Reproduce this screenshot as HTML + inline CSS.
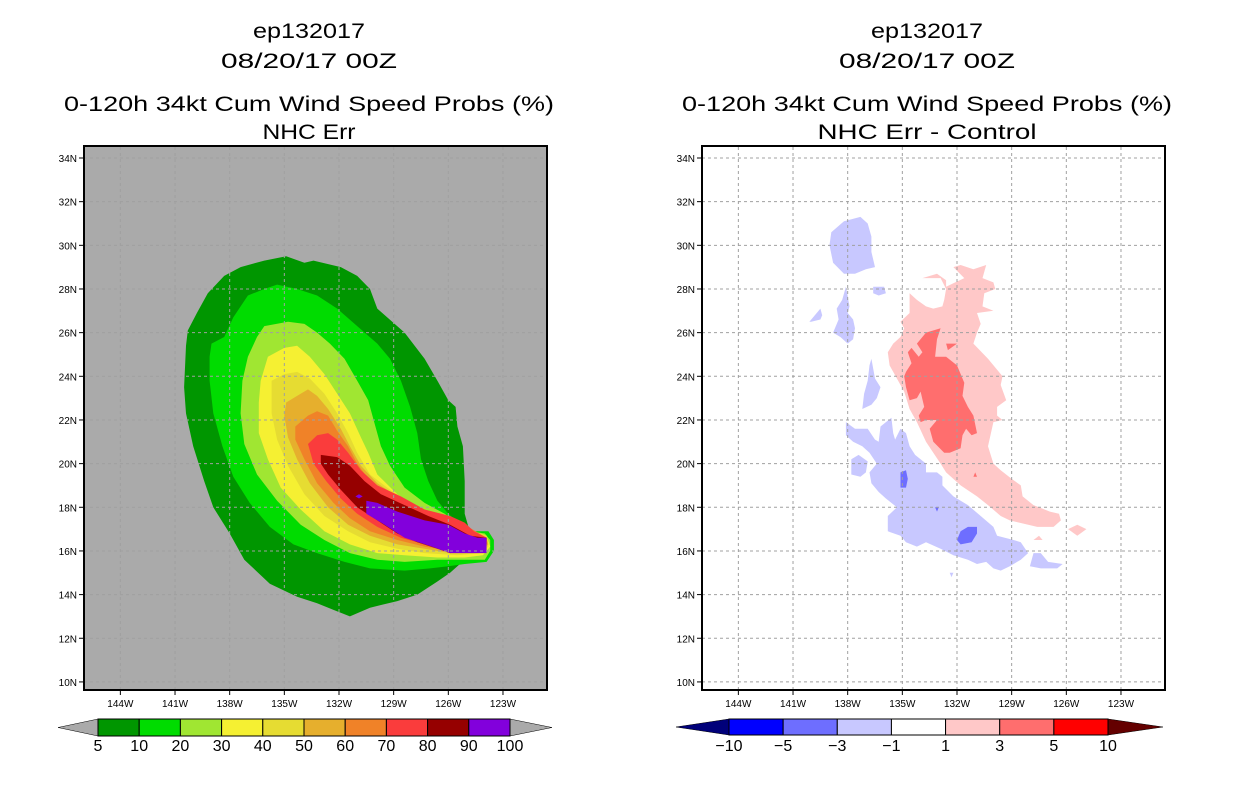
<!DOCTYPE html>
<html><head><meta charset="utf-8"><style>
html,body{margin:0;padding:0;background:#fff}
svg{display:block}
.t{font-family:"Liberation Sans",sans-serif;font-size:21px;fill:#000;text-anchor:middle}
.tk{font-family:"Liberation Sans",sans-serif;font-size:10px;fill:#000}
.cb{font-family:"Liberation Sans",sans-serif;font-size:16px;fill:#000;text-anchor:middle}
</style></head><body>
<svg id="root" width="1236" height="800" xmlns="http://www.w3.org/2000/svg">
<defs>
<clipPath id="clipL"><rect x="84" y="147" width="463" height="543"/></clipPath>
<clipPath id="clipR"><rect x="702" y="147" width="463" height="543"/></clipPath>
</defs>
<g>
<text class="t" x="309" y="38" textLength="112" lengthAdjust="spacingAndGlyphs">ep132017</text>
<text class="t" x="309" y="68" textLength="176" lengthAdjust="spacingAndGlyphs">08/20/17 00Z</text>
<text class="t" x="309" y="111" textLength="490" lengthAdjust="spacingAndGlyphs">0-120h 34kt Cum Wind Speed Probs (%)</text>
<text class="t" x="309" y="139" textLength="93" lengthAdjust="spacingAndGlyphs">NHC Err</text>
</g>
<g>
<text class="t" x="927" y="38" textLength="112" lengthAdjust="spacingAndGlyphs">ep132017</text>
<text class="t" x="927" y="68" textLength="176" lengthAdjust="spacingAndGlyphs">08/20/17 00Z</text>
<text class="t" x="927" y="111" textLength="490" lengthAdjust="spacingAndGlyphs">0-120h 34kt Cum Wind Speed Probs (%)</text>
<text class="t" x="927" y="139" textLength="219" lengthAdjust="spacingAndGlyphs">NHC Err - Control</text>
</g>
<rect x="84" y="147" width="463" height="543" fill="#aaaaaa"/>
<rect x="702" y="147" width="463" height="543" fill="#ffffff"/>
<g id="fillsL" clip-path="url(#clipL)"></g>
<g id="fillsR" clip-path="url(#clipR)"></g>
<g id="grid"></g>
<g id="axes"></g>
<g id="cbL"></g>
<g id="cbR"></g>
</svg>
<script>
// axis tick data
const lonTicks = [144,141,138,135,132,129,126,123];
const latTicks = [10,12,14,16,18,20,22,24,26,28,30,32,34];
// left colorbar levels
const probLevels = [5,10,20,30,40,50,60,70,80,90,100];
const probColors = ["#009600","#00dc00","#a0e632","#f5f032","#e6dc32","#e6af2d","#f08228","#fa3c3c","#960000","#8200dc"];
// right colorbar levels
const diffLevels = [-10,-5,-3,-1,1,3,5,10];
const diffColors = ["#0000ff","#6e6eff","#c8c8ff","#ffffff","#ffc8c8","#ff6e6e","#ff0000"];

// contour polygons: [lonW, lat]
const p5 = [[134.9,29.5],[133.9,29.2],[133.4,29.3],[131.9,29.0],[131.0,28.6],[130.3,28.0],[129.9,27.1],[128.4,26.0],[127.3,24.8],[126.6,23.8],[126.0,22.9],[125.6,22.6],[125.5,21.7],[125.2,20.8],[125.1,19.2],[125.1,17.7],[124.9,17.1],[125.1,15.6],[125.9,15.0],[126.6,14.6],[127.7,14.0],[128.8,13.7],[130.3,13.4],[131.4,13.0],[132.3,13.3],[133.2,13.6],[134.3,13.9],[135.8,14.5],[137.2,15.6],[138.0,16.8],[138.9,18.0],[139.4,19.2],[140.0,20.8],[140.4,22.3],[140.5,23.5],[140.4,25.4],[140.3,26.1],[139.8,26.9],[139.2,27.8],[138.3,28.6],[137.4,29.0],[136.1,29.3]];
const p10 = [[135.4,28.2],[134.3,28.0],[133.2,27.7],[132.1,27.1],[131.0,26.3],[129.9,25.5],[129.2,24.8],[128.6,23.8],[128.1,22.6],[127.7,21.4],[127.5,20.2],[127.1,19.2],[126.6,18.3],[126.0,17.7],[125.3,17.2],[124.8,16.9],[123.8,16.9],[123.5,16.5],[123.5,16.0],[123.9,15.5],[125.1,15.4],[126.0,15.3],[127.0,15.2],[128.4,15.1],[130.3,15.2],[131.7,15.5],[133.2,15.9],[134.5,16.3],[135.8,17.1],[136.9,18.2],[137.8,19.4],[138.4,20.8],[138.9,22.3],[139.1,23.8],[139.1,24.9],[139.0,25.5],[138.3,25.8],[137.8,26.7],[137.0,27.7],[136.1,28.0]];
const p20 = [[136.1,26.3],[134.8,26.5],[133.9,26.4],[133.2,26.0],[132.5,25.5],[131.7,24.8],[131.0,23.8],[130.4,22.9],[130.1,22.0],[129.7,20.8],[129.2,19.9],[128.4,18.9],[127.3,18.2],[126.2,17.7],[125.5,17.3],[124.8,16.9],[124.0,16.8],[123.7,16.5],[123.7,16.0],[124.0,15.6],[125.1,15.6],[126.6,15.6],[128.4,15.5],[129.9,15.6],[131.4,15.9],[132.8,16.5],[134.1,17.2],[135.4,18.3],[136.5,19.5],[137.2,20.9],[137.4,22.3],[137.3,23.8],[137.0,24.9],[136.5,25.8]];
const p30 = [[135.9,24.9],[135.0,25.3],[134.3,25.4],[133.6,24.9],[132.8,24.1],[132.1,23.2],[131.4,22.3],[130.8,21.2],[130.4,20.5],[129.9,19.5],[128.8,18.6],[127.7,18.0],[126.6,17.6],[125.5,17.2],[124.6,16.9],[123.9,16.7],[123.7,16.2],[124.1,15.8],[125.1,15.7],[126.6,15.7],[128.4,15.8],[129.9,15.9],[131.4,16.3],[132.8,16.9],[134.1,17.9],[135.2,18.9],[135.9,20.2],[136.4,21.4],[136.4,22.8],[136.3,23.8]];
const p40 = [[135.7,23.8],[135.0,24.1],[134.3,24.2],[133.6,23.9],[132.8,23.2],[132.1,22.3],[131.5,21.4],[131.0,20.5],[130.3,19.5],[129.2,18.8],[128.1,18.2],[126.8,17.7],[125.5,17.2],[124.6,16.9],[123.9,16.7],[123.8,16.2],[124.2,15.9],[125.5,15.8],[127.3,15.9],[128.8,16.1],[130.3,16.4],[131.5,16.9],[132.8,17.6],[133.9,18.6],[134.8,19.9],[135.4,21.1],[135.7,22.3],[135.7,23.2]];
const p50 = [[134.9,22.8],[134.3,23.1],[133.7,23.4],[133.2,23.1],[132.6,22.5],[131.9,21.6],[131.4,20.8],[130.8,19.9],[129.9,19.1],[128.8,18.5],[127.5,17.9],[126.0,17.5],[124.8,17.0],[123.9,16.6],[123.8,16.3],[124.3,15.9],[125.9,15.9],[127.3,16.1],[128.8,16.3],[130.3,16.7],[131.5,17.2],[132.6,18.0],[133.6,19.1],[134.3,20.2],[134.8,21.2],[135.0,22.2]];
const p60 = [[134.4,21.7],[133.7,22.2],[133.2,22.4],[132.6,22.2],[132.1,21.5],[131.5,20.8],[131.0,20.0],[130.3,19.2],[129.2,18.6],[127.9,18.1],[126.6,17.6],[125.1,17.2],[123.9,16.6],[123.9,16.3],[124.4,16.0],[125.9,16.0],[127.3,16.2],[128.8,16.5],[130.3,16.9],[131.4,17.5],[132.3,18.2],[133.2,19.1],[133.9,20.2],[134.4,21.1]];
const p70 = [[133.7,20.9],[133.2,21.3],[132.6,21.4],[132.1,21.1],[131.5,20.5],[130.8,19.7],[129.9,19.0],[128.6,18.5],[127.3,17.9],[125.9,17.6],[125.1,17.3],[124.6,16.9],[123.9,16.6],[123.9,16.3],[124.5,16.1],[125.9,16.1],[127.3,16.3],[128.6,16.6],[129.9,17.1],[131.0,17.7],[131.9,18.4],[132.7,19.2],[133.4,20.0]];
const p80 = [[133.0,20.4],[132.1,20.3],[131.4,19.9],[130.6,19.2],[129.7,18.6],[128.4,18.1],[127.1,17.6],[125.9,17.2],[124.8,16.7],[123.9,16.6],[123.9,16.3],[124.4,16.1],[125.9,15.9],[126.6,16.1],[127.7,16.4],[128.8,16.8],[129.9,17.4],[131.0,18.0],[131.9,18.8],[132.6,19.5],[133.0,20.0]];
const p90 = [[130.5,18.3],[129.9,18.2],[128.8,17.8],[127.3,17.4],[126.0,17.2],[125.1,16.8],[124.4,16.6],[123.9,16.6],[123.9,15.9],[125.9,15.9],[126.9,16.2],[128.4,16.6],[129.5,17.2],[130.5,17.7]];
const p90dot = [[131.1,18.5],[130.9,18.6],[130.7,18.5],[130.9,18.4]];

// difference field polygons
const dBlue1 = [[138.2,31.1],[137.3,31.3],[136.9,31.0],[136.7,30.4],[136.7,29.7],[136.5,29.0],[137.0,28.9],[137.6,28.7],[138.2,28.7],[138.8,29.2],[139.0,30.0],[138.9,30.6]];
const dBlue2 = [[136.6,28.1],[136.0,28.1],[135.9,27.8],[136.3,27.7],[136.6,27.8]];
const dBlue3 = [[140.1,26.5],[139.5,27.1],[139.4,26.8],[139.5,26.6],[140.0,26.5]];
const dBlue4 = [[138.1,28.1],[137.9,27.2],[138.0,26.9],[137.7,26.6],[137.6,26.2],[137.7,25.7],[138.0,25.5],[138.4,25.8],[138.8,26.0],[138.5,26.6],[138.6,27.1],[138.3,27.5]];
const dBlue5 = [[136.7,24.8],[136.5,23.9],[136.2,23.5],[136.4,23.0],[136.7,22.7],[137.2,22.5],[137.1,23.2],[136.9,23.8],[136.8,24.5]];
const dBlue6 = [[138.1,21.9],[137.6,21.6],[136.9,21.6],[136.5,21.1],[136.3,21.0],[136.2,21.7],[135.6,22.1],[135.5,21.4],[135.4,21.1],[135.1,21.6],[134.8,21.4],[134.6,20.8],[134.3,20.4],[133.7,20.0],[133.7,19.6],[133.1,19.6],[132.8,19.4],[132.8,19.0],[132.2,18.5],[131.4,18.1],[130.7,17.6],[130.0,17.1],[129.8,16.7],[128.9,16.5],[128.5,16.4],[128.1,15.9],[128.5,15.6],[129.1,15.3],[129.6,15.1],[130.0,15.2],[130.4,15.5],[130.9,15.4],[131.4,15.6],[132.2,15.8],[132.9,16.1],[133.7,16.4],[134.2,16.2],[134.8,16.4],[135.1,16.7],[135.8,16.9],[135.8,17.6],[135.3,18.0],[135.9,18.4],[136.3,18.7],[136.7,19.1],[136.8,19.6],[136.4,20.0],[136.8,20.5],[137.2,20.8],[137.7,21.0],[138.1,21.3]];
const dBlue7 = [[137.8,20.2],[137.4,20.4],[136.9,20.1],[137.0,19.6],[137.3,19.4],[137.8,19.5]];
const dBlue8 = [[127.8,15.9],[127.4,15.9],[127.0,15.5],[126.2,15.4],[126.5,15.2],[127.4,15.2],[128.0,15.3]];
const dBlue9 = [[132.4,15.0],[132.2,15.0],[132.3,14.8]];
const dNavy1 = [[135.1,19.6],[134.8,19.7],[134.7,19.3],[134.8,18.9],[135.1,18.9],[135.1,19.3]];
const dNavy2 = [[131.8,16.9],[131.4,17.1],[130.9,17.1],[130.9,16.8],[131.2,16.4],[131.8,16.3],[132.0,16.5]];
const dNavy3 = [[133.2,18.0],[133.0,18.0],[133.1,17.8]];
const dPink1 = [[135.1,26.5],[134.6,26.9],[134.6,27.8],[134.2,27.5],[133.7,27.2],[133.3,27.1],[132.8,27.2],[132.7,27.5],[132.6,28.0],[132.9,28.5],[133.9,28.5],[133.1,28.7],[132.6,28.4],[132.6,28.1],[132.1,28.3],[131.6,28.5],[132.2,29.0],[131.8,29.1],[131.1,28.9],[130.4,29.1],[130.6,28.5],[130.0,28.3],[129.9,28.0],[130.5,27.8],[130.6,27.2],[130.0,27.0],[130.9,26.9],[130.7,26.4],[130.9,26.0],[131.1,25.5],[130.3,24.8],[129.5,24.0],[129.6,23.6],[129.3,22.9],[129.8,22.6],[129.8,22.2],[129.5,22.0],[130.0,21.9],[130.3,20.8],[130.0,20.0],[129.6,19.7],[129.0,19.3],[128.5,19.0],[128.4,18.5],[127.8,18.1],[126.9,17.8],[126.4,17.7],[126.3,17.4],[126.7,17.1],[127.6,17.1],[129.1,17.4],[129.6,17.6],[130.3,18.1],[130.9,18.5],[131.8,19.0],[132.6,19.6],[132.9,20.0],[133.3,20.5],[133.7,21.0],[134.2,21.9],[134.6,22.5],[134.9,23.3],[135.3,23.9],[135.7,24.5],[135.8,25.1],[135.5,25.5],[135.1,25.8],[134.9,26.2]];
const dPink2 = [[125.9,17.0],[125.4,17.2],[124.9,17.0],[125.4,16.7]];
const dPink3 = [[127.8,16.5],[127.5,16.7],[127.3,16.5]];
const dRed1 = [[134.9,24.0],[134.8,24.2],[134.5,24.6],[134.7,25.1],[134.5,25.3],[134.1,24.9],[133.9,25.1],[134.2,25.5],[133.7,26.0],[132.9,26.2],[133.1,25.7],[133.2,24.9],[132.6,24.9],[132.0,24.5],[131.6,23.7],[131.7,23.1],[131.4,22.6],[131.1,22.2],[130.9,21.4],[131.2,21.3],[131.5,21.6],[131.7,21.3],[131.8,20.7],[132.4,20.5],[132.7,20.5],[133.3,21.0],[133.5,21.6],[133.1,22.0],[133.7,22.0],[134.0,21.9],[134.1,22.2],[133.8,22.6],[134.0,23.3],[134.2,23.0],[134.6,22.9],[134.8,23.5]];
const dRed2 = [[132.6,25.5],[132.0,25.5],[132.5,25.2]];
const dRed3 = [[131.0,19.6],[130.9,19.4],[131.1,19.4]];

const NS = "http://www.w3.org/2000/svg";
function xScale(lonW, panel){ return 339 + (132 - lonW) * 18.22 + (panel === 1 ? 618 : 0); }
function yScale(lat){ return 158 + (34 - lat) * 21.83; }
function mk(tag, attrs, parent){ const e = document.createElementNS(NS, tag); for (const k in attrs) e.setAttribute(k, attrs[k]); parent.appendChild(e); return e; }
function poly(parent, pts, panel, fill, name){
  const d = pts.map(p => xScale(p[0], panel).toFixed(1) + "," + yScale(p[1]).toFixed(1)).join(" ");
  const e = mk("polygon", {points: d, fill: fill}, parent);
  
  
  return e;
}
const fL = document.getElementById("fillsL");
const leftSet = [p5,p10,p20,p30,p40,p50,p60,p70,p80,p90];
leftSet.forEach((p,i) => poly(fL, p, 0, probColors[i], "contour-" + probLevels[i] + "pct"));
poly(fL, p90dot, 0, probColors[9], "contour-90pct-spot");

const fR = document.getElementById("fillsR");
[dBlue1,dBlue2,dBlue3,dBlue4,dBlue5,dBlue6,dBlue7,dBlue8,dBlue9].forEach(p => poly(fR, p, 1, diffColors[2], "negative-diff-region"));
[dNavy1,dNavy2,dNavy3].forEach(p => poly(fR, p, 1, diffColors[1], "strong-negative-diff-region"));
[dPink1,dPink2,dPink3].forEach(p => poly(fR, p, 1, diffColors[4], "positive-diff-region"));
[dRed1,dRed2,dRed3].forEach(p => poly(fR, p, 1, diffColors[5], "strong-positive-diff-region"));

const grid = document.getElementById("grid");
const axes = document.getElementById("axes");
[0,1].forEach(panel => {
  const x0 = panel ? 702 : 84, x1 = x0 + 463;
  lonTicks.forEach(l => {
    const x = xScale(l, panel);
    const g = mk("line", {x1:x, x2:x, y1:147, y2:690, stroke:"#a0a0a0", "stroke-width":1, "stroke-dasharray":"3,3"}, grid);
    
    
    mk("line", {x1:x, x2:x, y1:690, y2:695, stroke:"#000", "stroke-width":1}, axes);
    const t = mk("text", {x:x, y:707, class:"tk", "text-anchor":"middle"}, axes);
    t.textContent = l + "W";
    
    
  });
  latTicks.forEach(l => {
    const y = yScale(l);
    const g = mk("line", {x1:x0, x2:x1, y1:y, y2:y, stroke:"#a0a0a0", "stroke-width":1, "stroke-dasharray":"3,3"}, grid);
    
    
    mk("line", {x1:x0-5, x2:x0, y1:y, y2:y, stroke:"#000", "stroke-width":1}, axes);
    const t = mk("text", {x:x0-7, y:y+4, class:"tk", "text-anchor":"end"}, axes);
    t.textContent = l + "N";
    
    
  });
  const fr = mk("rect", {x:x0, y:146, width:463, height:544, fill:"none", stroke:"#000", "stroke-width":2}, axes);
  
  
});

// left colorbar
const cbL = document.getElementById("cbL");
const bw = (510 - 98) / probColors.length;
mk("polygon", {points:"58,727.5 98,719 98,736", fill:"#aaaaaa", stroke:"#000", "stroke-width":0.5}, cbL);
mk("polygon", {points:"552,727.5 510,719 510,736", fill:"#aaaaaa", stroke:"#000", "stroke-width":0.5}, cbL);
probColors.forEach((c,i) => {
  const r = mk("rect", {x:98 + i*bw, y:719, width:bw, height:17, fill:c, stroke:"#000", "stroke-width":1}, cbL);
  
  
});
probLevels.forEach((v,i) => {
  const t = mk("text", {x:98 + i*bw, y:751, class:"cb"}, cbL);
  t.textContent = v;
  
  
});
// right colorbar
const cbR = document.getElementById("cbR");
const bw2 = (1108 - 729) / diffColors.length;
mk("polygon", {points:"676,727 729,719 729,735", fill:"#00007a", stroke:"#000", "stroke-width":0.5}, cbR);
mk("polygon", {points:"1163,727 1108,719 1108,735", fill:"#640000", stroke:"#000", "stroke-width":0.5}, cbR);
diffColors.forEach((c,i) => {
  const r = mk("rect", {x:729 + i*bw2, y:719, width:bw2, height:16, fill:c, stroke:"#000", "stroke-width":1}, cbR);
  
  
});
diffLevels.forEach((v,i) => {
  const t = mk("text", {x:729 + i*bw2, y:751, class:"cb"}, cbR);
  t.textContent = v < 0 ? "\u2212" + (-v) : v;
  
  
});
</script>
</body></html>
